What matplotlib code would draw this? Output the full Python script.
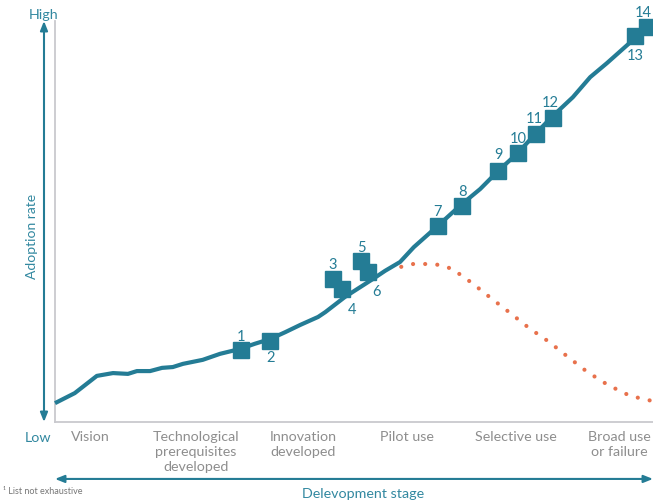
import matplotlib.pyplot as plt

plt.rcParams["font.family"] = ["Lato", "DejaVu Sans"]

TEAL = "#247c95"
TEXT_TEAL = "#3288a0"
ORANGE = "#e8714c"
GREY_TEXT = "#8e8e8e"
GREY_LINE = "#c9c9ce"

# Adoption curve (development stage 0-100, adoption rate 0-100)
curve_x = [0, 3.3, 7.0, 9.7, 12.2, 13.7, 15.9, 17.9, 19.7, 21.4, 24.7, 27.6,
           30.9, 33.4, 36.0, 38.5, 41.0, 44.0, 45.2, 48.5, 53.2, 55.2, 57.7,
           60.0, 64.0, 67.7, 71.1, 74.1, 77.4, 80.3, 83.1, 86.6, 89.5, 92.3,
           97.2, 100]
curve_y = [4.7, 7.2, 11.5, 12.2, 12.0, 12.7, 12.7, 13.5, 13.7, 14.5, 15.5, 17.0,
           18.2, 19.5, 20.7, 22.4, 24.2, 26.2, 27.4, 31.2, 35.7, 37.7, 39.9,
           43.6, 48.9, 53.9, 58.1, 62.6, 67.1, 71.8, 76.1, 81.0, 86.0, 89.5,
           96.0, 99.3]

# Failure path
fail_x = [57.9, 59.9, 62.0, 64.2, 66.4, 68.1, 69.7, 72.9, 76.1, 79.3, 82.6,
          85.8, 89.0, 92.5, 96.2, 100]
fail_y = [38.7, 39.4, 39.4, 39.2, 38.2, 36.4, 34.7, 30.9, 27.2, 23.4, 20.0,
          16.2, 12.5, 9.2, 6.5, 5.2]

# Numbered examples
item_ids = list(range(1, 15))
item_x = [31.1, 36.0, 46.5, 48.0, 51.2, 52.3, 64.0, 68.1, 74.1, 77.4, 80.4,
          83.3, 97.0, 99.0]
item_y = [18.0, 20.2, 35.7, 33.2, 40.1, 37.4, 48.9, 53.9, 62.6, 67.1, 71.8,
          75.8, 96.3, 98.5]

stages = ["Vision", "Technological\nprerequisites\ndeveloped",
          "Innovation\ndeveloped", "Pilot use", "Selective use",
          "Broad use\nor failure"]

# label offsets (points) relative to each square
label_offsets = [(0, 10), (0, -11.5), (0, 11), (7, -14.5), (0, 10),
                 (6.5, -13.7), (-0.5, 11), (0, 10.5), (0, 12), (0, 11),
                 (-1, 11.5), (-2, 11.5), (0, -13.7), (-3, 10.8)]
stage_pos = [5.9, 23.6, 41.5, 58.9, 77.1, 94.3]

fig = plt.figure(figsize=(6.53, 5.02), dpi=100)
ax = fig.add_axes([55 / 653, 79 / 502, 598 / 653, 401 / 502])
ax.set_xlim(0, 100)
ax.set_ylim(0, 100)
ax.set_xticks([])
ax.set_yticks([])
for side in ("top", "right"):
    ax.spines[side].set_visible(False)
for side in ("left", "bottom"):
    ax.spines[side].set_color(GREY_LINE)
    ax.spines[side].set_linewidth(1.3)

ax.plot(fail_x, fail_y, color=ORANGE, lw=3, linestyle=(0, (0.01, 2.9)),
        dash_capstyle="round", clip_on=False, zorder=2)
ax.plot(curve_x, curve_y, color=TEAL, lw=3, solid_capstyle="butt",
        solid_joinstyle="round", clip_on=False, zorder=3)
ax.plot(item_x, item_y, "s", color=TEAL, markersize=12, clip_on=False,
        zorder=4)

for n, x, y, off in zip(item_ids, item_x, item_y, label_offsets):
    ax.annotate(str(n), (x, y), xytext=off, textcoords="offset points",
                ha="center", va="center", fontsize=10.5, color=TEAL,
                annotation_clip=False, zorder=5)

# stage names under the x axis
for name, x in zip(stages, stage_pos):
    ax.text(x, -0.02, name, transform=ax.get_xaxis_transform(), ha="center",
            va="top", fontsize=10.3, color=GREY_TEXT, linespacing=1.3)

# axis arrows
arrow = dict(arrowstyle="<|-|>,head_length=0.55,head_width=0.22",
             color=TEAL, lw=1.5, shrinkA=0, shrinkB=0)
ax.annotate("", xy=(-0.0184, 1.0), xytext=(-0.0184, 0.0),
            xycoords="axes fraction", arrowprops=arrow)
ax.annotate("", xy=(1.0, -0.142), xytext=(0.0, -0.142),
            xycoords="axes fraction", arrowprops=arrow)

ax.text(-0.0184, 1.018, "High", transform=ax.transAxes, ha="center",
        va="center", fontsize=10.3, color=TEXT_TEAL)
ax.text(-0.029, -0.037, "Low", transform=ax.transAxes, ha="center",
        va="center", fontsize=10.3, color=TEXT_TEAL)
ax.text(-0.0385, 0.465, "Adoption rate", transform=ax.transAxes,
        rotation=90, ha="center", va="center", fontsize=10, color=TEXT_TEAL)
ax.text(0.515, -0.177, "Delevopment stage", transform=ax.transAxes,
        ha="center", va="center", fontsize=10.3, color=TEXT_TEAL)
fig.text(3 / 653, 1 - 492 / 502, "\u00b9 List not exhaustive", ha="left",
         va="center", fontsize=6.5, color="#777777")

fig.savefig("out.png", dpi=100)
